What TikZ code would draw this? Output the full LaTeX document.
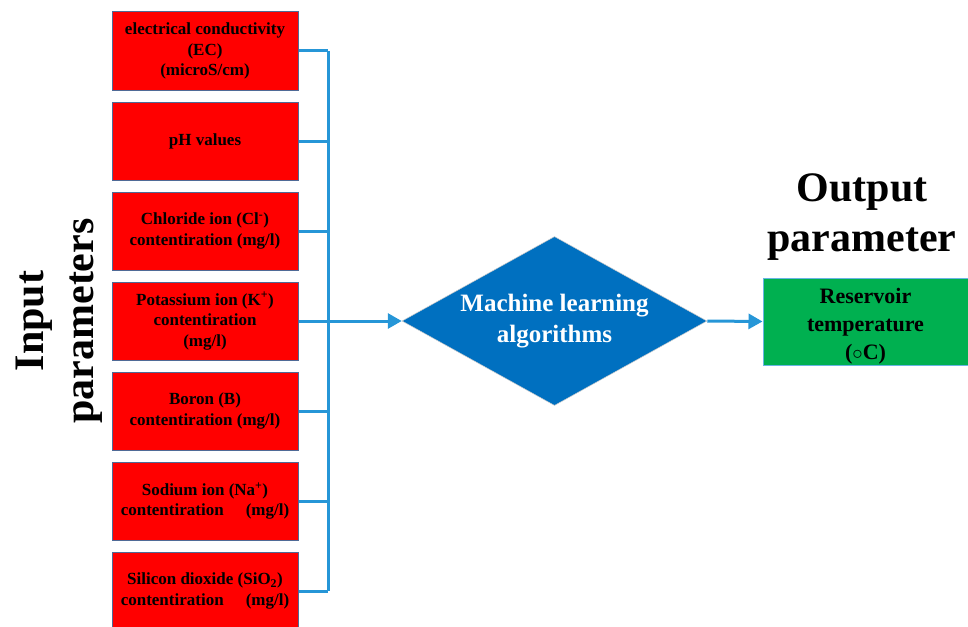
\documentclass[tikz,border=0pt]{standalone}
\usepackage{fontspec}
\setmainfont{Liberation Serif}
\usetikzlibrary{arrows.meta,shapes.geometric}
\definecolor{boxred}{RGB}{255,0,0}
\definecolor{boxedge}{RGB}{79,106,150}
\definecolor{conncol}{RGB}{38,150,215}
\definecolor{mlblue}{RGB}{0,112,192}
\definecolor{outgreen}{RGB}{0,176,80}
\begin{document}
\begin{tikzpicture}[x=1pt,y=-1pt,
  inbox/.style={draw=boxedge, line width=1pt, fill=boxred, minimum width=186pt, minimum height=78pt,
    inner sep=0pt, align=center, font=\bfseries\fontsize{17}{20.4}\selectfont},
  conn/.style={draw=conncol, line width=3pt},
  arr/.style={conn, -{Triangle[length=14pt,width=15pt]}},
  bigtitle/.style={align=center, font=\bfseries\fontsize{42}{50}\selectfont}
]
\useasboundingbox (0,0) rectangle (968,626);

\node[inbox] (b1) at (205,51) {electrical conductivity\\(EC)\\(microS/cm)};
\node[inbox] (b2) at (205,141) {pH values};
\node[inbox] (b3) at (205,231) {Chloride ion (Cl\textsuperscript{-})\\contentiration (mg/l)};
\node[inbox] (b4) at (205,321) {Potassium ion (K\textsuperscript{+})\\contentiration\\(mg/l)};
\node[inbox] (b5) at (205,411) {Boron (B)\\contentiration (mg/l)};
\node[inbox] (b6) at (205,501) {Sodium ion (Na\textsuperscript{+})\\contentiration\hspace{1.3em}(mg/l)};
\node[inbox] (b7) at (205,591) {Silicon dioxide (SiO\textsubscript{2})\\contentiration\hspace{1.3em}(mg/l)};

\node[diamond, aspect=1.8, minimum width=305pt, minimum height=169pt, inner sep=0pt,
  fill=mlblue, draw=gray!40, line width=0.5pt, text=white, align=center,
  font=\bfseries\fontsize{25}{31}\selectfont] (ml) at (554.5,321) {Machine learning\\algorithms};

\node[draw=conncol!70, line width=1pt, fill=outgreen, minimum width=205pt, minimum height=87pt,
  inner sep=0pt, align=center, font=\bfseries\fontsize{22}{28}\selectfont] (out) at (865.5,321.5)
  {\rule{0pt}{25pt}Reservoir\\temperature\\($\circ$C)};

\node[bigtitle] (otitle) at (862,217) {Output\\parameter};
\node[bigtitle, rotate=90] (ititle) at (59,321) {Input\\parameters};

\coordinate (bt) at (328,51);
\coordinate (bb) at (328,591);
\draw[conn] (bt) -- (bb);
\foreach \i in {1,...,7} {\draw[conn] (b\i.east) -- (b\i.east -| bt);}
\draw[arr] (b4.east -| bt) -- (ml.west);
\draw[arr] (ml.east) -- (out.west);
\end{tikzpicture}
\end{document}
